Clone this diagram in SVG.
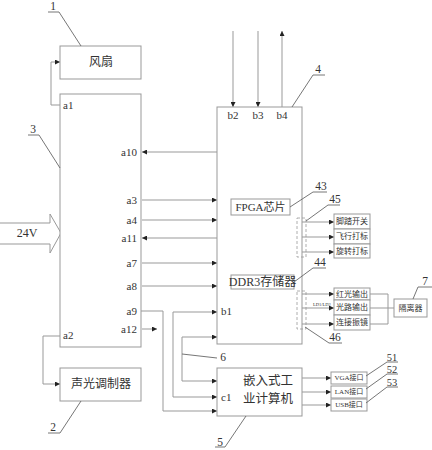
<svg xmlns="http://www.w3.org/2000/svg" width="432" height="450" viewBox="0 0 432 450">
<defs>
<marker id="ah" viewBox="0 0 6 6" refX="6" refY="3" markerWidth="5" markerHeight="5" markerUnits="userSpaceOnUse" orient="auto">
<path d="M0,0 L6,3 L0,6 z" fill="#222"/>
</marker>
</defs>
<style>
.bx{fill:#fff;stroke:#999;stroke-width:1}
.ln{fill:none;stroke:#999;stroke-width:1}
.ar{fill:none;stroke:#999;stroke-width:1;marker-end:url(#ah)}
.ld{fill:none;stroke:#666;stroke-width:0.9}
.ds{fill:none;stroke:#999;stroke-width:0.8;stroke-dasharray:3,2}
text{font-family:"Liberation Serif","Noto Sans CJK SC",serif;fill:#333;dominant-baseline:central}
.c{text-anchor:middle}
.r{text-anchor:end}
.p{font-size:11px}
.n{font-size:11.5px}
</style>
<rect width="432" height="450" fill="#fff"/>

<g id="connectors">
<polyline class="ar" points="60,105 51,105 51,62 60,62"/>
<line class="ar" x1="217" y1="152" x2="142" y2="152"/>
<line class="ar" x1="142" y1="200" x2="217" y2="200"/>
<line class="ar" x1="142" y1="220" x2="217" y2="220"/>
<line class="ar" x1="217" y1="238" x2="142" y2="238"/>
<line class="ar" x1="142" y1="263" x2="217" y2="263"/>
<line class="ar" x1="142" y1="286" x2="217" y2="286"/>
<polyline class="ar" points="141,311 163,311 163,411 217,411"/>
<polyline class="ar" points="173,397 173,312 217,312"/>
<line class="ar" x1="173" y1="397" x2="217" y2="397"/>
<polyline class="ar" points="182,359 182,337 217,337"/>
<polyline class="ar" points="182,359 182,381 217,381"/>
<line class="ar" x1="142" y1="329" x2="157" y2="329"/>
<polyline class="ar" points="60,336 43,336 43,384 60,384"/>
<line class="ar" x1="233" y1="31" x2="233" y2="107"/>
<line class="ar" x1="258" y1="31" x2="258" y2="107"/>
<line class="ar" x1="282" y1="107" x2="282" y2="31"/>
<line class="ar" x1="302" y1="222" x2="334" y2="222"/>
<line class="ar" x1="302" y1="237" x2="334" y2="237"/>
<line class="ar" x1="302" y1="252" x2="334" y2="252"/>
<line class="ar" x1="302" y1="294" x2="334" y2="294"/>
<line class="ar" x1="302" y1="308" x2="334" y2="308"/>
<line class="ar" x1="302" y1="324" x2="334" y2="324"/>
<polyline class="ln" points="370,294 388,294 388,324 370,324"/>
<line class="ln" x1="370" y1="308" x2="394" y2="308"/>
<line class="ar" x1="302" y1="378" x2="331" y2="378"/>
<line class="ar" x1="302" y1="392" x2="331" y2="392"/>
<line class="ar" x1="302" y1="405" x2="331" y2="405"/>
</g>

<g id="power24v">
<path class="bx" d="M0,223 H50 V214 L61,233 L50,253 V244 H0"/>
<text class="c" x="27" y="233" font-size="12">24V</text>
</g>

<g id="fan">
<rect class="bx" x="60" y="46" width="81" height="33"/>
<text class="c" x="101" y="62" font-size="12">风扇</text>
</g>

<g id="power-board">
<rect class="bx" x="60" y="94" width="81" height="253"/>
<text class="p" x="63" y="105">a1</text>
<text class="p r" x="137" y="152">a10</text>
<text class="p r" x="137" y="200">a3</text>
<text class="p r" x="137" y="220">a4</text>
<text class="p r" x="137" y="238">a11</text>
<text class="p r" x="137" y="263">a7</text>
<text class="p r" x="137" y="286">a8</text>
<text class="p r" x="137" y="311">a9</text>
<text class="p r" x="137" y="329">a12</text>
<text class="p" x="63" y="335">a2</text>
</g>

<g id="aom">
<rect class="bx" x="60" y="368" width="81" height="33"/>
<text class="c" x="101" y="384" font-size="12">声光调制器</text>
</g>

<g id="control-board">
<rect class="bx" x="217" y="107" width="85" height="237"/>
<text class="p c" x="233" y="115">b2</text>
<text class="p c" x="258" y="115">b3</text>
<text class="p c" x="282" y="115">b4</text>
<text class="p" x="221" y="311">b1</text>
</g>

<g id="fpga">
<rect class="bx" x="231" y="199" width="59" height="16"/>
<text class="c" x="260.5" y="207" font-size="11">FPGA芯片</text>
</g>

<g id="ddr3">
<rect class="bx" x="231" y="275" width="63" height="14"/>
<text class="c" x="262.5" y="282" font-size="12">DDR3存储器</text>
</g>

<g id="connector45">
<rect class="ds" x="297" y="218" width="9" height="39"/>
</g>
<g id="connector46">
<rect class="ds" x="297" y="291" width="9" height="38"/>
<text x="313" y="304" font-size="4.5">LD1/LD2</text>
</g>

<g id="io-outputs">
<rect class="bx" x="334" y="214" width="36" height="15"/>
<text class="c" x="352" y="221.5" font-size="8">脚踏开关</text>
<rect class="bx" x="334" y="229" width="36" height="15"/>
<text class="c" x="352" y="236.5" font-size="8">飞行打标</text>
<rect class="bx" x="334" y="244" width="36" height="14"/>
<text class="c" x="352" y="251" font-size="8">旋转打标</text>
</g>

<g id="laser-outputs">
<rect class="bx" x="334" y="288" width="36" height="12"/>
<text class="c" x="352" y="294" font-size="8">红光输出</text>
<rect class="bx" x="334" y="300" width="36" height="15"/>
<text class="c" x="352" y="307.5" font-size="8">光路输出</text>
<rect class="bx" x="334" y="315" width="36" height="15"/>
<text class="c" x="352" y="322.5" font-size="8">连接振镜</text>
</g>

<g id="isolator">
<rect class="bx" x="394" y="299" width="33" height="18"/>
<text class="c" x="410.5" y="308" font-size="8">隔离器</text>
</g>

<g id="ipc">
<rect class="bx" x="217" y="368" width="85" height="48"/>
<text class="c" x="268" y="381" font-size="12.5">嵌入式工</text>
<text class="c" x="268" y="399" font-size="12.5">业计算机</text>
<text class="p" x="221" y="397">c1</text>
</g>

<g id="ports">
<rect class="bx" x="331" y="372" width="36" height="12"/>
<text class="c" x="349" y="378" font-size="7">VGA接口</text>
<rect class="bx" x="331" y="386" width="36" height="12"/>
<text class="c" x="349" y="392" font-size="7">LAN接口</text>
<rect class="bx" x="331" y="399" width="36" height="12"/>
<text class="c" x="349" y="405" font-size="7">USB接口</text>
</g>

<g id="labels">
<polyline class="ld" points="48,12 59,12 81,46"/>
<text class="n c" x="53" y="6">1</text>
<polyline class="ld" points="28,135 39,135 60,168"/>
<text class="n c" x="33" y="129">3</text>
<polyline class="ld" points="325,75 313,75 292,107"/>
<text class="n c" x="318" y="69">4</text>
<polyline class="ld" points="290,207 313,192 327,192"/>
<text class="n c" x="321" y="186">43</text>
<polyline class="ld" points="306,221 328,205 340,205"/>
<text class="n c" x="335" y="199">45</text>
<polyline class="ld" points="294,282 313,268 326,268"/>
<text class="n c" x="320" y="262">44</text>
<polyline class="ld" points="305,327 329,343 342,343"/>
<text class="n c" x="335" y="337">46</text>
<polyline class="ld" points="413,299 418,287 432,287"/>
<text class="n c" x="425" y="281">7</text>
<line class="ld" x1="182" y1="354" x2="217" y2="358"/>
<text class="n c" x="223" y="357">6</text>
<polyline class="ld" points="81,401 60,433 48,433"/>
<text class="n c" x="53" y="427">2</text>
<polyline class="ld" points="246,416 225,447 215,447"/>
<text class="n c" x="220" y="442">5</text>
<polyline class="ld" points="366,376 387,362 398,362"/>
<text class="c" x="392" y="357" font-size="10.5">51</text>
<polyline class="ld" points="366,389 387,374 398,374"/>
<text class="c" x="392" y="369" font-size="10.5">52</text>
<polyline class="ld" points="366,403 387,387 398,387"/>
<text class="c" x="392" y="382" font-size="10.5">53</text>
</g>
</svg>
